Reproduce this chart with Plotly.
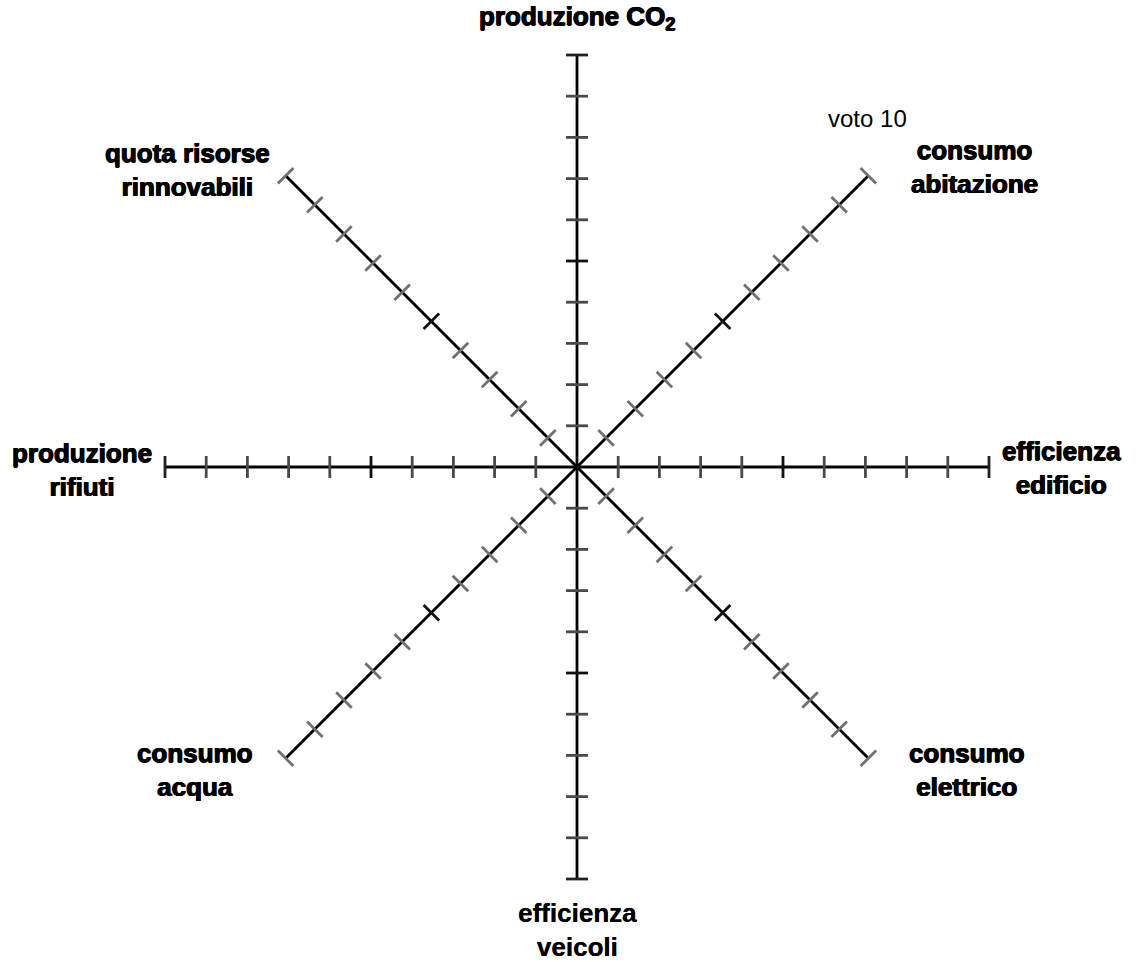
import numpy as np
import plotly.graph_objects as go

# ---- data ----
axis_labels = ["produzione CO<sub>2</sub>", "consumo<br>abitazione", "efficienza<br>edificio",
               "consumo<br>elettrico", "efficienza<br>veicoli", "consumo<br>acqua",
               "produzione<br>rifiuti", "quota risorse<br>rinnovabili"]
axis_angles = [90, 45, 0, -45, -90, -135, 180, 135]
tick_values = [1, 2, 3, 4, 5, 6, 7, 8, 9, 10]
max_value = 10
top_label = "voto 10"

# label offsets in pixels relative to axis end (layout only)
label_shift = [(0, 38), (106, 9), (72, -1), (99, -12), (0, -51), (-91, -12), (-83, -3), (-98, 6)]
heavy = [True, True, True, True, False, True, True, True]

W, H = 1141, 962
cx, cy = 577, 467
px_per_unit = 41.2
tick_half = 11 / px_per_unit

fig = go.Figure()

# axis lines
for ang in axis_angles:
    a = np.deg2rad(ang)
    fig.add_trace(go.Scatter(x=[0, max_value * np.cos(a)], y=[0, max_value * np.sin(a)],
                             mode="lines", line=dict(color="#000000", width=2.8),
                             hoverinfo="skip", showlegend=False))

# ticks
for ang in axis_angles:
    a = np.deg2rad(ang)
    ux, uy = np.cos(a), np.sin(a)
    px, py = -uy, ux
    diag = ang % 90 != 0
    for v in tick_values:
        if v == 5:
            col = "#111111"
        elif v == max_value and not diag:
            col = "#222222"
        else:
            col = "#707070" if diag else "#4a4a4a"
        x0, y0 = v * ux, v * uy
        fig.add_trace(go.Scatter(x=[x0 - tick_half * px, x0 + tick_half * px],
                                 y=[y0 - tick_half * py, y0 + tick_half * py],
                                 mode="lines", line=dict(color=col, width=2.8),
                                 hoverinfo="skip", showlegend=False))

annotations = []
for lab, ang, (sx, sy), hv in zip(axis_labels, axis_angles, label_shift, heavy):
    a = np.deg2rad(ang)
    font = dict(family="Liberation Sans, Arial, sans-serif", size=26, color="#000000",
                weight="bold")
    if hv:
        font["shadow"] = "0.6px 0 0 #000, -0.6px 0 0 #000, 0 0.5px 0 #000"
    else:
        font["shadow"] = "0.25px 0 0 #000"
    annotations.append(dict(x=max_value * np.cos(a), y=max_value * np.sin(a), text=lab,
                            showarrow=False, xshift=sx, yshift=sy, xanchor="center", yanchor="middle",
                            font=font))
a45 = np.deg2rad(45)
annotations.append(dict(x=max_value * np.cos(a45), y=max_value * np.sin(a45), text=top_label,
                        showarrow=False, xshift=-1, yshift=57, xanchor="center", yanchor="middle",
                        font=dict(family="Liberation Sans, Arial, sans-serif", size=24, color="#000000")))

fig.update_layout(
    width=W, height=H, margin=dict(l=0, r=0, t=0, b=0),
    paper_bgcolor="white", plot_bgcolor="white",
    xaxis=dict(range=[-cx / px_per_unit, (W - cx) / px_per_unit], visible=False, fixedrange=True),
    yaxis=dict(range=[-(H - cy) / px_per_unit, cy / px_per_unit], visible=False, fixedrange=True),
    annotations=annotations, showlegend=False,
)

fig.write_html("out.html", config={"displayModeBar": False},
               post_script="document.body.style.margin='0px';document.body.style.overflow='hidden';")
